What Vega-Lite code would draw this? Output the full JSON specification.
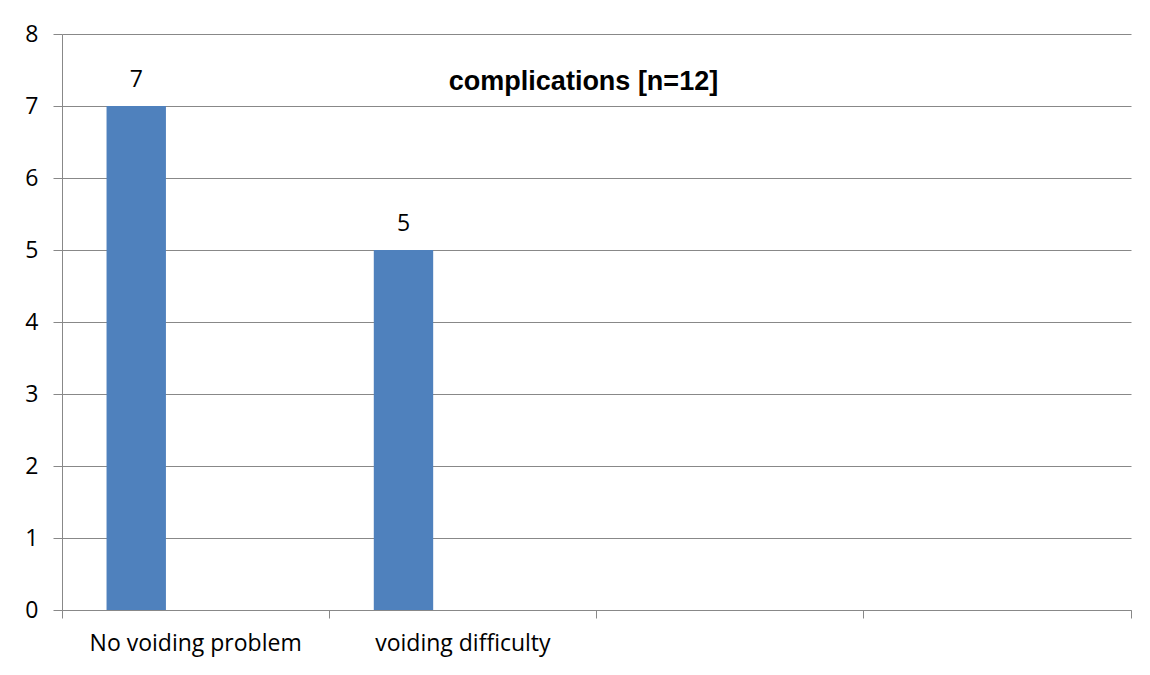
{
  "$schema": "https://vega.github.io/schema/vega-lite/v6.json",
  "width": 1069,
  "height": 576,
  "autosize": "none",
  "padding": {"left": 62, "top": 34, "right": 19, "bottom": 65},
  "background": "white",
  "config": {
    "view": {"stroke": null},
    "font": "Open Sans"
  },
  "title": {
    "text": "complications [n=12]",
    "font": "Liberation Sans",
    "fontWeight": "bold",
    "fontSize": 27,
    "color": "black",
    "anchor": "middle",
    "baseline": "alphabetic",
    "offset": 0,
    "dx": -13,
    "dy": 94
  },
  "data": {
    "values": [
      {"category": "No voiding problem", "series": "s1", "count": 7},
      {"category": "voiding difficulty", "series": "s1", "count": 5}
    ]
  },
  "encoding": {
    "x": {
      "field": "category",
      "type": "nominal",
      "sort": null,
      "scale": {
        "domain": ["No voiding problem", "voiding difficulty", "c3", "c4"],
        "paddingInner": 0,
        "paddingOuter": 0
      },
      "axis": {
        "title": null,
        "labelAngle": 0,
        "labelExpr": "datum.value == 'c3' || datum.value == 'c4' ? '' : datum.value",
        "labelFont": "Open Sans",
        "labelFontSize": 23,
        "labelColor": "black",
        "labelPadding": 14,
        "labelLimit": 400,
        "labelOverlap": false,
        "bandPosition": 1,
        "tickExtra": true,
        "tickSize": 8,
        "tickColor": "#888888",
        "domainColor": "#888888",
        "grid": false
      }
    },
    "xOffset": {
      "field": "series",
      "type": "nominal",
      "scale": {"domain": ["s1", "s2", "s3"], "paddingInner": 0, "paddingOuter": 0.75}
    },
    "y": {
      "field": "count",
      "type": "quantitative",
      "scale": {"domain": [0, 8], "nice": false},
      "axis": {
        "title": null,
        "values": [0, 1, 2, 3, 4, 5, 6, 7, 8],
        "labelFont": "Open Sans",
        "labelFontSize": 23,
        "labelColor": "black",
        "labelPadding": 15,
        "tickSize": 9,
        "tickColor": "#888888",
        "domainColor": "#888888",
        "gridColor": "#888888",
        "gridOpacity": 1,
        "grid": true
      }
    }
  },
  "layer": [
    {"mark": {"type": "bar", "color": "#4F81BD"}},
    {
      "mark": {"type": "text", "baseline": "alphabetic", "dy": -19, "fontSize": 23, "font": "Open Sans", "color": "black"},
      "encoding": {"text": {"field": "count", "type": "quantitative"}}
    }
  ]
}
